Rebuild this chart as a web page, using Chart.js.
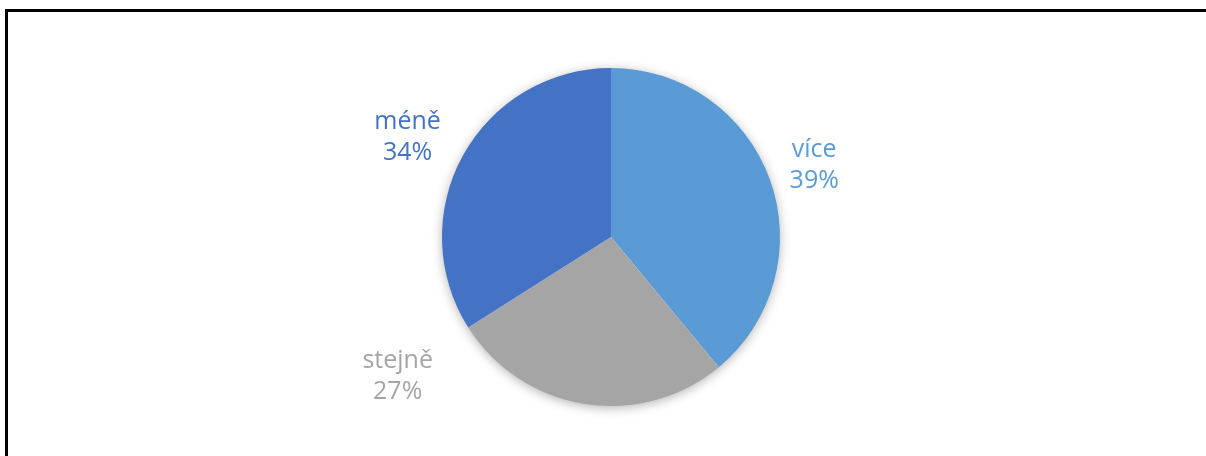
<!DOCTYPE html>
<html>
<head>
<meta charset="utf-8">
<script src="https://cdn.jsdelivr.net/npm/chart.js@4.4.1/dist/chart.umd.min.js"></script>
<style>
  html, body { margin: 0; padding: 0; background: #fff; }
  #wrap { position: relative; width: 1206px; height: 456px; overflow: hidden; }
  #frame {
    position: absolute; left: 5px; top: 9px; right: -10px; bottom: -10px;
    border-left: 3px solid #000; border-top: 3px solid #000;
  }
  canvas { position: absolute; left: 0; top: 0; }
</style>
</head>
<body>
<div id="wrap">
  <div id="frame"></div>
  <canvas id="pie" width="1206" height="456"></canvas>
</div>
<script>
// answer categories and their shares (%)
const categories = ['více', 'stejně', 'méně'];
const shares = [39, 27, 34];
const sliceColours = ['#5B9BD5', '#A5A5A5', '#4472C4'];

// where each label sits: fraction along the slice arc, gap outside the rim (px)
const labelArcFraction = [0.5, 0.995, 0.48];
const labelGap = [47, 85, 58];

// soft shadow under the whole pie
const pieShadow = {
  id: 'pieShadow',
  beforeDatasetsDraw(chart) {
    const arc = chart.getDatasetMeta(0).data[0];
    if (!arc) return;
    const ctx = chart.ctx;
    ctx.save();
    ctx.shadowColor = 'rgba(0,0,0,0.35)';
    ctx.shadowBlur = 12;
    ctx.shadowOffsetY = 2;
    ctx.fillStyle = '#fff';
    ctx.beginPath();
    ctx.arc(arc.x, arc.y, arc.outerRadius - 1, 0, Math.PI * 2);
    ctx.fill();
    ctx.restore();
  }
};

// category + percentage labels outside the slices
const outsideLabels = {
  id: 'outsideLabels',
  afterDatasetsDraw(chart) {
    const ctx = chart.ctx;
    const meta = chart.getDatasetMeta(0);
    ctx.save();
    ctx.font = '25px "Open Sans", "Noto Sans", sans-serif';
    ctx.textAlign = 'center';
    ctx.textBaseline = 'middle';
    meta.data.forEach((arc, i) => {
      const a = arc.startAngle + labelArcFraction[i] * (arc.endAngle - arc.startAngle);
      const r = arc.outerRadius + labelGap[i];
      const x = arc.x + r * Math.cos(a);
      const y = arc.y + r * Math.sin(a);
      ctx.fillStyle = sliceColours[i];
      ctx.fillText(chart.data.labels[i], x, y - 14);
      ctx.fillText(chart.data.datasets[0].data[i] + '%', x, y + 17);
    });
    ctx.restore();
  }
};

new Chart(document.getElementById('pie'), {
  type: 'pie',
  data: {
    labels: categories,
    datasets: [{
      data: shares,
      backgroundColor: sliceColours,
      borderWidth: 0
    }]
  },
  options: {
    responsive: false,
    animation: false,
    layout: { padding: { top: 68, bottom: 50, left: 16, right: 0 } },
    plugins: {
      legend: { display: false },
      tooltip: { enabled: false }
    }
  },
  plugins: [pieShadow, outsideLabels]
});
</script>
</body>
</html>
